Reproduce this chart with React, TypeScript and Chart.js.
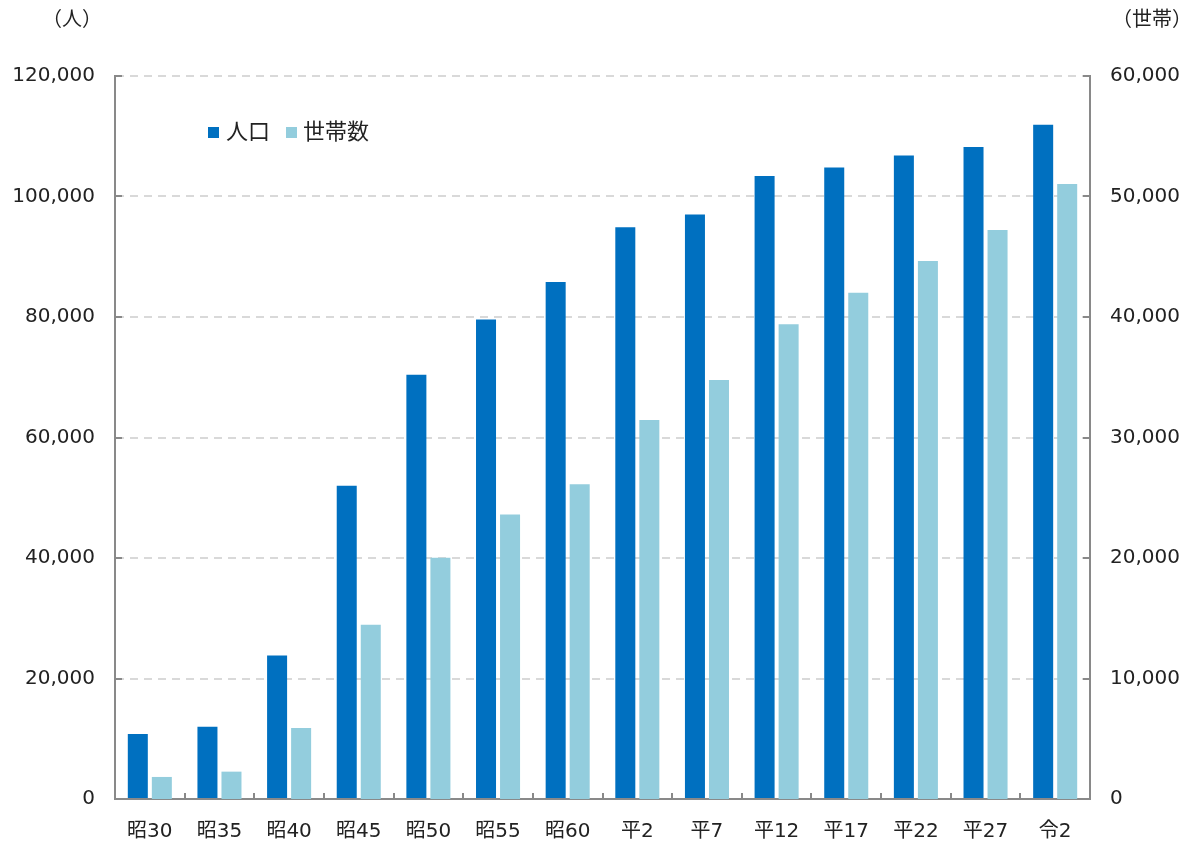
import React, { useEffect, useRef } from "react";
import { Chart, registerables } from "chart.js";

Chart.register(...registerables);

const categories = ["昭30", "昭35", "昭40", "昭45", "昭50", "昭55", "昭60", "平2", "平7", "平12", "平17", "平22", "平27", "令2"];
const populationLabel = "人口";
const householdLabel = "世帯数";
const population = [10800, 12000, 23800, 52000, 70400, 79600, 85800, 94900, 97000, 103400, 104800, 106800, 108200, 111900];
const households = [1830, 2270, 5890, 14470, 20030, 23600, 26110, 31450, 34770, 39390, 42020, 44650, 47220, 51040];
const leftUnit = "（人）";
const rightUnit = "（世帯）";
const leftMax = 120000;
const leftStep = 20000;
const rightMax = 60000;
const rightStep = 10000;

const FONT = '"DejaVu Sans", "Noto Sans CJK JP", sans-serif';
const AXIS = "#898989";
const DARK = "#0070C0";
const LIGHT = "#93CDDD";

const fmt = (v: number) => Number(v).toLocaleString("en-US");

const extrasPlugin = {
  id: "extras",
  afterDraw(chart: any) {
    const ctx = chart.ctx;
    const a = chart.chartArea;
    const y = chart.scales.y;
    const y2 = chart.scales.y2;
    const x = chart.scales.x;
    ctx.save();
    ctx.strokeStyle = AXIS;
    ctx.lineWidth = 2;
    ctx.beginPath();
    y.ticks.forEach((t: any) => {
      const py = Math.round(y.getPixelForValue(t.value));
      ctx.moveTo(a.left, py);
      ctx.lineTo(a.left + 7, py);
    });
    y2.ticks.forEach((t: any) => {
      const py = Math.round(y2.getPixelForValue(t.value));
      ctx.moveTo(a.right, py);
      ctx.lineTo(a.right - 7, py);
    });
    const n = categories.length;
    for (let i = 1; i < n; i++) {
      const px = Math.round((x.getPixelForValue(i - 1) + x.getPixelForValue(i)) / 2);
      ctx.moveTo(px, a.bottom);
      ctx.lineTo(px, a.bottom - 6);
    }
    ctx.stroke();

    // unit labels
    ctx.fillStyle = "#222";
    ctx.font = `20px ${FONT}`;
    ctx.textAlign = "center";
    ctx.textBaseline = "middle";
    ctx.fillText(leftUnit, 72, 21);
    ctx.fillText(rightUnit, 1152, 21);

    // legend
    const ds = chart.data.datasets;
    ctx.font = `22px ${FONT}`;
    ctx.textAlign = "left";
    const entries = [
      { x: 208, tx: 226 },
      { x: 286, tx: 303 },
    ];
    entries.forEach((e, i) => {
      ctx.fillStyle = ds[i].backgroundColor;
      ctx.fillRect(e.x, 127, 11, 11);
      ctx.fillStyle = "#222";
      ctx.fillText(ds[i].label, e.tx, 133);
    });
    ctx.restore();
  },
};

export default function App() {
  const ref = useRef<HTMLCanvasElement | null>(null);

  useEffect(() => {
    if (!ref.current) return;
    const chart = new Chart(ref.current, {
      type: "bar",
      data: {
        labels: categories,
        datasets: [
          {
            label: populationLabel,
            data: population,
            backgroundColor: DARK,
            yAxisID: "y",
            categoryPercentage: 0.69,
            barPercentage: 0.833,
          },
          {
            label: householdLabel,
            data: households,
            backgroundColor: LIGHT,
            yAxisID: "y2",
            categoryPercentage: 0.69,
            barPercentage: 0.833,
          },
        ],
      },
      options: {
        responsive: false,
        animation: false,
        devicePixelRatio: 1,
        layout: { padding: { top: 76, left: 0, right: 0, bottom: 0 } },
        plugins: {
          legend: { display: false },
          tooltip: { enabled: false },
          title: { display: false },
        },
        scales: {
          x: {
            grid: { display: true, drawOnChartArea: false, drawTicks: false },
            border: { display: true, color: AXIS, width: 2 },
            ticks: { color: "#222", font: { family: FONT, size: 20 }, padding: 21, maxRotation: 0 },
            afterFit: (s: any) => {
              s.height = 45;
            },
          },
          y: {
            position: "left",
            min: 0,
            max: leftMax,
            grid: {
              color: (c: any) => (c.tick && c.tick.value === 0 ? "rgba(0,0,0,0)" : "#d9d9d9"),
              lineWidth: 2,
              drawTicks: false,
            },
            border: { display: true, color: AXIS, width: 2, dash: [8, 6] },
            ticks: {
              stepSize: leftStep,
              color: "#222",
              font: { family: FONT, size: 20 },
              padding: 20,
              callback: (v: any) => fmt(v),
            },
            afterFit: (s: any) => {
              s.width = 115;
            },
          },
          y2: {
            position: "right",
            min: 0,
            max: rightMax,
            grid: { display: false, drawOnChartArea: false, drawTicks: false },
            border: { display: true, color: AXIS, width: 2 },
            ticks: {
              stepSize: rightStep,
              color: "#222",
              font: { family: FONT, size: 20 },
              padding: 20,
              callback: (v: any) => fmt(v),
            },
            afterFit: (s: any) => {
              s.width = 107;
            },
          },
        },
      },
      plugins: [extrasPlugin],
    } as any);
    return () => chart.destroy();
  }, []);

  return (
    <div style={{ position: "absolute", left: 0, top: 0, width: 1197, height: 844, background: "#fff" }}>
      <canvas ref={ref} width={1197} height={844} />
    </div>
  );
}
